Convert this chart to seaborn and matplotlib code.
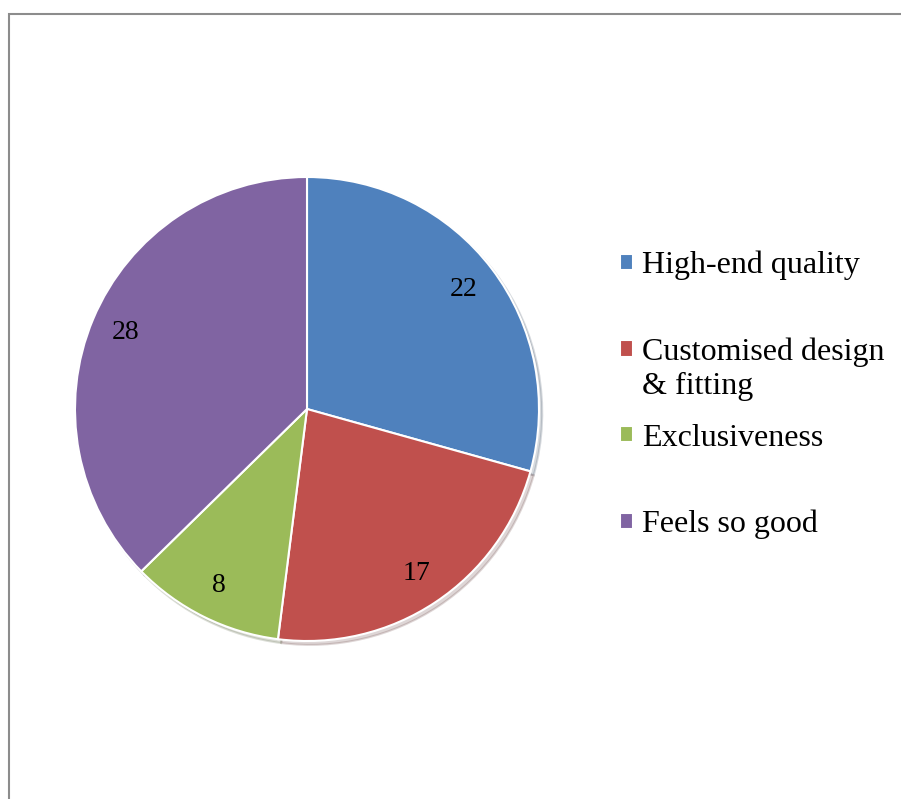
import matplotlib
matplotlib.use("Agg")
import matplotlib.pyplot as plt
import seaborn as sns
from matplotlib.patches import Rectangle

categories = ["High-end quality", "Customised design", "Exclusiveness", "Feels so good"]
extra_line = "& fitting"
values = [22, 17, 8, 28]
colors = ["#4F81BD", "#C0504D", "#9BBB59", "#8064A2"]

sns.set_theme(style="white")
plt.rcParams['font.family'] = ['Liberation Serif', 'DejaVu Serif']
plt.rcParams['text.color'] = 'black'

fig = plt.figure(figsize=(9.01, 7.99), dpi=100)
fig.patch.set_facecolor("white")

# outer chart frame (only top and left edges are visible)
fig.patches.append(Rectangle((8.5 / 901, -0.2), 1.2, 1.2 - 13.5 / 799,
                             transform=fig.transFigure, fill=False,
                             edgecolor="#8c8c8c", linewidth=1.5))

ax = fig.add_axes([75 / 901, (799 - 641) / 799, 464 / 901, 464 / 799])
total = sum(values)
wedges, texts, autotexts = ax.pie(
    values, colors=colors, startangle=90, counterclock=False,
    autopct=lambda p: "%d" % round(p * total / 100.0),
    pctdistance=0.85,
    wedgeprops=dict(edgecolor="white", linewidth=1.5),
    shadow=dict(ox=0.01, oy=-0.012, shade=0.6, alpha=0.18),
    textprops=dict(fontsize=20, color="black"),
)
ax.set_xlim(-1, 1)
ax.set_ylim(-1, 1)
ax.set_aspect("equal")

leg = fig.legend(wedges, categories, loc="upper left",
                 bbox_to_anchor=(620 / 901, 1 - 251 / 799),
                 frameon=False, fontsize=23, handlelength=0.4,
                 handleheight=0.4, handletextpad=0.3, labelspacing=1.78,
                 borderpad=0, borderaxespad=0, labelcolor="black")

# second line of the "Customised design" entry
ax.annotate(extra_line, xy=(0, 0), xycoords=leg.texts[1],
            xytext=(0, -3.5), textcoords="offset points",
            va="top", ha="left", fontsize=23, color="black",
            annotation_clip=False)

fig.canvas.draw()
fig.savefig("out.png", dpi=100)
